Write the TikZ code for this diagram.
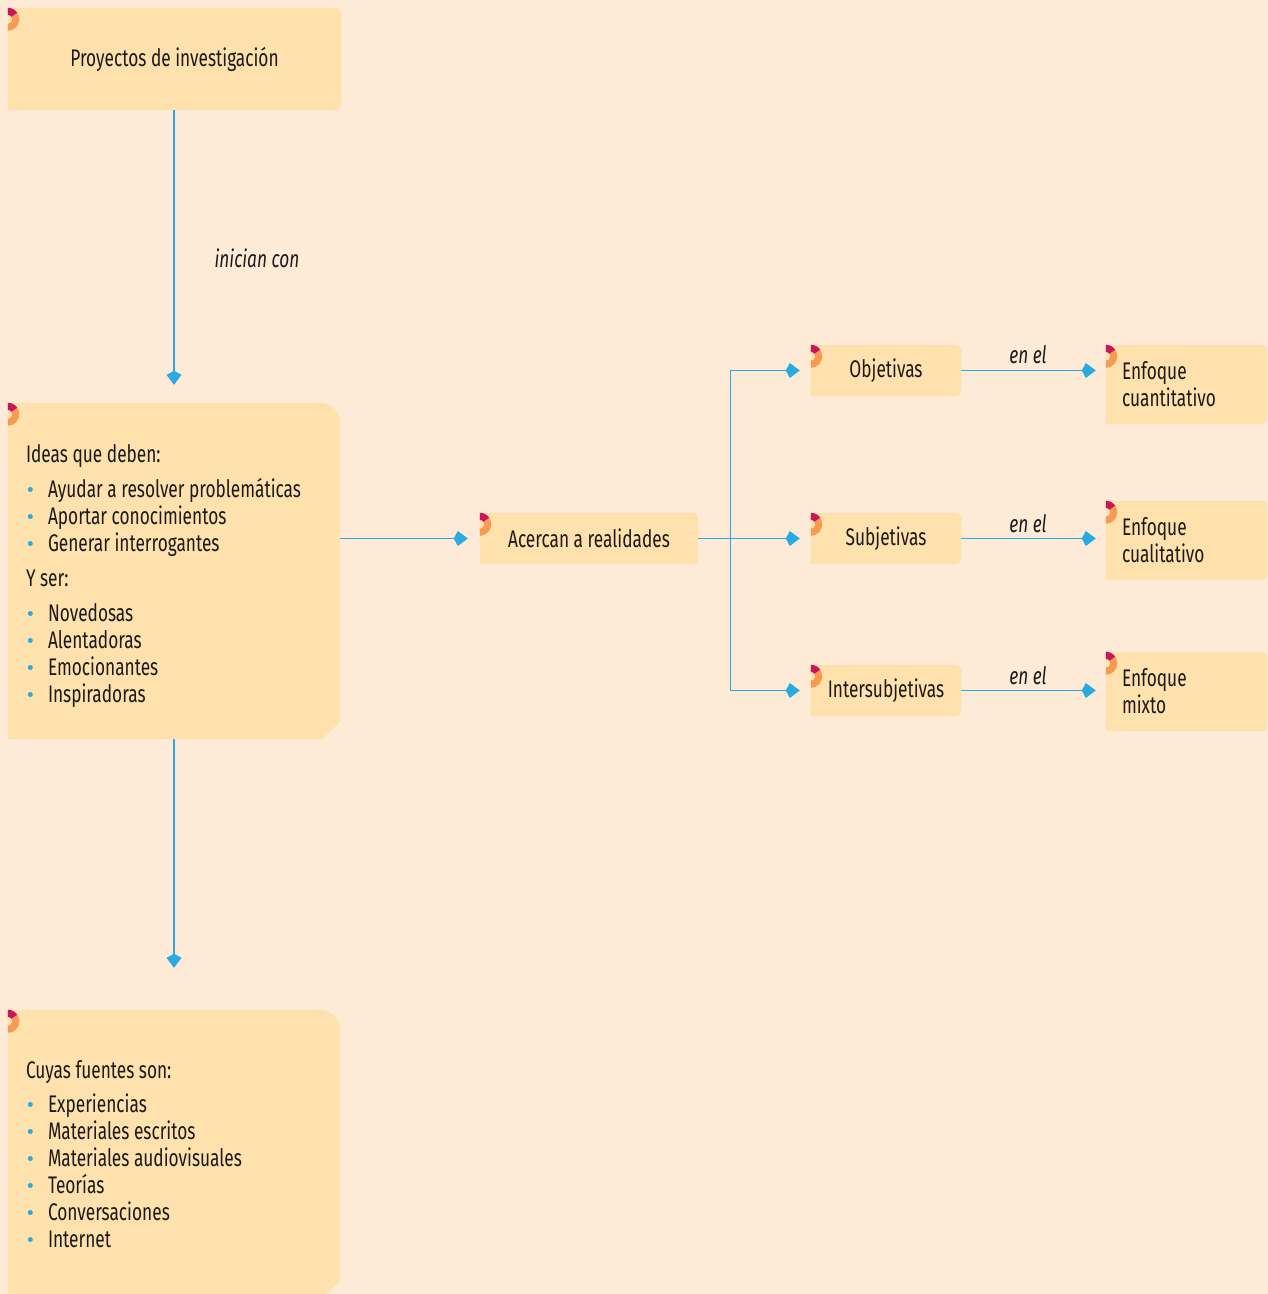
\documentclass[tikz,border=0pt]{standalone}
\usepackage{fontspec}
\setmainfont{Fira Sans}[FakeStretch=0.72]
\newfontfamily\dotfont{Fira Sans}
\usetikzlibrary{arrows.meta,backgrounds,calc}

\definecolor{bgpeach}{HTML}{FDEBD8}
\definecolor{boxfill}{HTML}{FEE1AC}
\definecolor{lineblue}{HTML}{29ABE2}
\definecolor{markorange}{HTML}{F59B53}
\definecolor{markmagenta}{HTML}{C8175D}
\definecolor{inkblack}{HTML}{1A1A1A}

\newcommand\mainsz{\fontsize{24pt}{27pt}\selectfont}
\newcommand\dotitem[1]{\makebox[22pt][l]{\hspace{1pt}\textcolor{lineblue}{\dotfont\fontsize{22pt}{22pt}\selectfont\textbullet}}#1}

% box outline: square left corners, rounded right corners
\newcommand\softfill[2]{%
  \fill[boxfill] (#1.south west) -- (#1.north west)
    -- ([xshift=-#2]#1.north east) arc[start angle=90,end angle=0,radius=#2]
    -- ([yshift=#2]#1.south east) arc[start angle=0,end angle=-90,radius=#2]
    -- cycle;}
% large box outline: rounded top right, cut bottom right
\newcommand\cutfill[1]{%
  \fill[boxfill] (#1.south west) -- (#1.north west)
    -- ([xshift=-20pt]#1.north east) arc[start angle=90,end angle=0,radius=20pt]
    -- ([yshift=18pt]#1.south east) -- ([xshift=-18pt]#1.south east)
    -- cycle;}
% half ring at the top left corner of a box
\newcommand\tabmark[1]{%
  \coordinate (tm) at ([yshift=-11.5pt]#1.north west);
  \fill[markorange] ($(tm)+(0,-11.5)$) arc[start angle=-90,end angle=90,radius=11.5]
    -- ($(tm)+(0,4.5)$) arc[start angle=90,end angle=-90,radius=4.5] -- cycle;
  \fill[markmagenta] ($(tm)+(0,11.5)$) arc[start angle=90,end angle=35,radius=11.5]
    -- ($(tm)+(35:4.5)$) arc[start angle=35,end angle=90,radius=4.5] -- cycle;}

\tikzset{
  box/.style={inner sep=0pt, minimum height=51pt, align=center, font=\mainsz, text=inkblack},
  bigbox/.style={inner xsep=18pt, inner ysep=0pt, minimum width=332pt, text width=296pt,
    align=flush left, font=\mainsz, text=inkblack},
  enfbox/.style={inner xsep=16pt, inner ysep=0pt, minimum width=161pt, minimum height=79pt,
    text width=129pt, align=flush left, font=\mainsz, text=inkblack},
  kite/.tip={Kite[length=14pt,width=15pt,inset=4pt]},
  conn/.style={draw=lineblue, line width=1.3pt, -kite},
  lbl/.style={font=\itshape\mainsz, text=inkblack}
}

\begin{document}
\begin{tikzpicture}[x=1pt,y=1pt]
\useasboundingbox (0,0) rectangle (1268,1294);
\clip (0,0) rectangle (1268,1294);

% boxes
\node[box, minimum width=333pt, minimum height=102pt] (proj) at (174.5,1235) {Proyectos de investigación};

\node[bigbox, minimum height=336pt] (ideas) at (174,723) {%
  \rule{0pt}{29pt}Ideas que deben:\\[8pt]
  \dotitem{Ayudar a resolver problemáticas}\\
  \dotitem{Aportar conocimientos}\\
  \dotitem{Generar interrogantes}\\[8pt]
  Y ser:\\[8pt]
  \dotitem{Novedosas}\\
  \dotitem{Alentadoras}\\
  \dotitem{Emocionantes}\\
  \dotitem{Inspiradoras}};

\node[bigbox, minimum height=288pt] (fuentes) at (174,140) {%
  Cuyas fuentes son:\\[7pt]
  \dotitem{Experiencias}\\
  \dotitem{Materiales escritos}\\
  \dotitem{Materiales audiovisuales}\\
  \dotitem{Teorías}\\
  \dotitem{Conversaciones}\\
  \dotitem{Internet}};

\node[box, minimum width=218pt] (acercan) at (589,755.5) {Acercan a realidades};

\node[box, minimum width=150pt] (obj)   at (886,923.5) {Objetivas};
\node[box, minimum width=150pt] (subj)  at (886,755.5) {Subjetivas};
\node[box, minimum width=150pt] (inter) at (886,603.5) {Intersubjetivas};

\node[enfbox] (cuant) at (1186.5,909.5) {Enfoque\\cuantitativo};
\node[enfbox] (cual)  at (1186.5,753.5) {Enfoque\\cualitativo};
\node[enfbox] (mixto) at (1186.5,602.5) {Enfoque\\mixto};

% box backgrounds and corner marks
\begin{scope}[on background layer]
  \fill[bgpeach] (0,0) rectangle (1268,1294);
  \softfill{proj}{6pt}
  \cutfill{ideas}
  \cutfill{fuentes}
  \softfill{acercan}{6pt}
  \softfill{obj}{6pt}
  \softfill{subj}{6pt}
  \softfill{inter}{6pt}
  \softfill{cuant}{6pt}
  \softfill{cual}{6pt}
  \softfill{mixto}{6pt}
  \foreach \b in {proj,ideas,fuentes,acercan,obj,subj,inter,cuant,cual,mixto}{\tabmark{\b}}
\end{scope}

% connectors
\draw[conn] (proj.south -| ideas.north) -- ([yshift=18pt]ideas.north);
\node[lbl] (inicianlbl) at (257,1036) {inician con};

\draw[conn] (ideas.east |- acercan.west) -- ([xshift=-12pt]acercan.west);
\draw[conn] (acercan.east) -- ([xshift=-11pt]subj.west);
\draw[conn, kite-kite] ([xshift=-11pt]obj.west) -- ([xshift=-80pt]obj.west)
  |- ([xshift=-11pt]inter.west);

\draw[conn] (obj.east) -- ([xshift=-10pt]obj.east -| cuant.west);
\draw[conn] (subj.east) -- ([xshift=-10pt]subj.east -| cual.west);
\draw[conn] (inter.east) -- ([xshift=-10pt]inter.east -| mixto.west);
\node[lbl] (enel1) at (1028,939) {en el};
\node[lbl] (enel2) at (1028,770) {en el};
\node[lbl] (enel3) at (1028,618) {en el};

\draw[conn] (ideas.south) -- ([yshift=42pt]fuentes.north);
\end{tikzpicture}
\end{document}
